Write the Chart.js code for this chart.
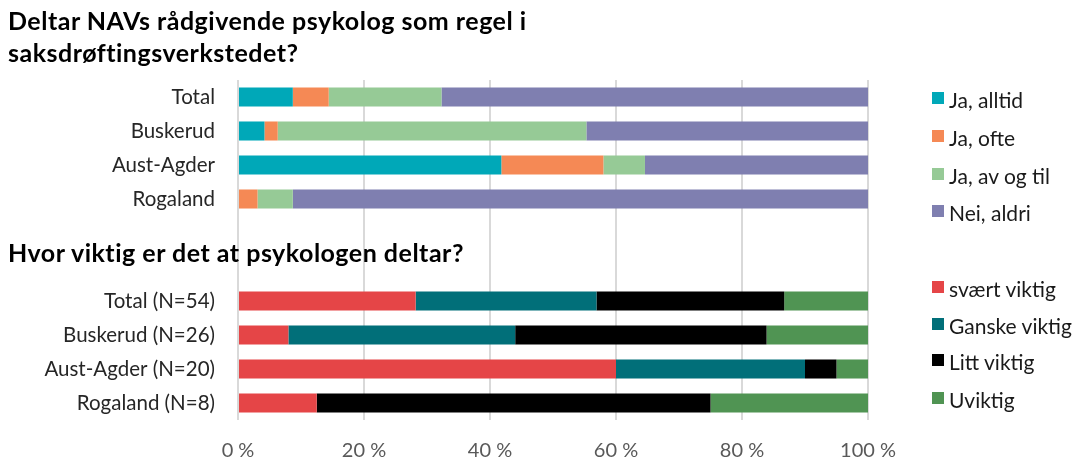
<!DOCTYPE html>
<html>
<head>
<meta charset="utf-8">
<script src="https://cdn.jsdelivr.net/npm/chart.js@4/dist/chart.umd.min.js"></script>
<style>
  html, body { margin: 0; padding: 0; background: #fff; }
  body { width: 1075px; height: 462px; position: relative; overflow: hidden; font-family: Lato, "Open Sans", sans-serif; }
  #wrap { position: absolute; left: 0; top: 0; width: 1075px; height: 462px; }
  .title { position: absolute; left: 8px; font-weight: bold; font-size: 25px; letter-spacing: 0.5px; color: #000; line-height: 32px; white-space: nowrap; }
  .legend { position: absolute; left: 932px; font-size: 21px; color: #1a1a1a; }
  .legend .item { position: absolute; left: 0; white-space: nowrap; height: 24px; line-height: 24px; }
  .legend .sw { position: absolute; left: 0; top: 4px; width: 12px; height: 12px; }
  .legend .lbl { position: absolute; left: 17px; top: 0; }
</style>
</head>
<body>
<div id="wrap"><canvas id="c" width="1075" height="462"></canvas></div>
<div class="title" style="top:4px;">Deltar NAVs rådgivende psykolog som regel i<br>saksdrøftingsverkstedet?</div>
<div class="title" style="top:236px;">Hvor viktig er det at psykologen deltar?</div>
<div class="legend" id="legTop" style="top:0px;"></div>
<div class="legend" id="legBot" style="top:0px;"></div>
<script>
// ---- Data ----
const categoriesTop = ['Total', 'Buskerud', 'Aust-Agder', 'Rogaland'];
const jaAlltid  = [8.7, 4.2, 41.8, 0];
const jaOfte    = [5.7, 2.1, 16.2, 3.1];
const jaAvOgTil = [17.9, 49.0, 6.6, 5.6];
const neiAldri  = [67.7, 44.7, 35.4, 91.3];

const categoriesBottom = ['Total (N=54)', 'Buskerud (N=26)', 'Aust-Agder (N=20)', 'Rogaland (N=8)'];
const svaertViktig = [28.2, 8.0, 60, 12.5];
const ganskeViktig = [28.7, 36.0, 30, 0];
const littViktig   = [29.8, 39.9, 5, 62.5];
const uviktig      = [13.3, 16.1, 5, 25];

const xTicks = [0, 20, 40, 60, 80, 100];

const seriesTopNames = ['Ja, alltid', 'Ja, ofte', 'Ja, av og til', 'Nei, aldri'];
const seriesBottomNames = ['svært viktig', 'Ganske viktig', 'Litt viktig', 'Uviktig'];

// ---- Styles ----
const colorsTop = ['#00A8B8', '#F58955', '#96CA96', '#7F7FB0'];
const colorsBottom = ['#E54547', '#016F79', '#000000', '#509453'];

// Two blank spacer rows separate the two panels
const gapRows = ['', ''];
const labels = [...categoriesTop, ...gapRows, ...categoriesBottom];
const nTop = categoriesTop.length, nGap = gapRows.length, nBot = categoriesBottom.length;

function padTop(arr) { return [...arr, ...Array(nGap + nBot).fill(null)]; }
function padBottom(arr) { return [...Array(nTop + nGap).fill(null), ...arr]; }

const topSeries = [jaAlltid, jaOfte, jaAvOgTil, neiAldri];
const botSeries = [svaertViktig, ganskeViktig, littViktig, uviktig];

const datasets = [];
topSeries.forEach((s, i) => datasets.push({
  label: seriesTopNames[i], data: padTop(s), backgroundColor: colorsTop[i],
  borderWidth: 0, stack: 's', categoryPercentage: 1, barPercentage: 0.56
}));
botSeries.forEach((s, i) => datasets.push({
  label: seriesBottomNames[i], data: padBottom(s), backgroundColor: colorsBottom[i],
  borderWidth: 0, stack: 's', categoryPercentage: 1, barPercentage: 0.56
}));

const FONT = 'Lato, "Open Sans", sans-serif';

new Chart(document.getElementById('c'), {
  type: 'bar',
  data: { labels, datasets },
  options: {
    indexAxis: 'y',
    responsive: false,
    animation: false,
    events: [],
    layout: { padding: { top: 80, right: 207, bottom: 0, left: 0 } },
    plugins: { legend: { display: false }, tooltip: { enabled: false }, title: { display: false } },
    scales: {
      x: {
        stacked: true, min: 0, max: 100,
        afterBuildTicks: (scale) => { scale.ticks = xTicks.map(v => ({ value: v })); },
        afterFit: (scale) => { scale.height = 42; },
        grid: { color: '#D9D9D9', lineWidth: 2, drawTicks: false },
        border: { display: false },
        ticks: { padding: 19, color: '#595959', font: { family: FONT, size: 20 }, callback: (v) => v + ' %' }
      },
      y: {
        stacked: true,
        afterFit: (scale) => { scale.width = 238; },
        grid: { display: false, drawTicks: false },
        border: { display: false },
        ticks: { padding: 23, color: '#262626', font: { family: FONT, size: 20.5 } }
      }
    }
  }
});

// ---- HTML legends ----
function buildLegend(el, names, colors, ys) {
  names.forEach((n, i) => {
    const it = document.createElement('div');
    it.className = 'item';
    it.style.top = (ys[i] - 12) + 'px';
    it.innerHTML = '<span class="sw" style="background:' + colors[i] + '"></span><span class="lbl">' + n + '</span>';
    el.appendChild(it);
  });
}
buildLegend(document.getElementById('legTop'), seriesTopNames, colorsTop, [100, 138, 176, 213]);
buildLegend(document.getElementById('legBot'), seriesBottomNames, colorsBottom, [289, 326, 362, 400]);
</script>
</body>
</html>
